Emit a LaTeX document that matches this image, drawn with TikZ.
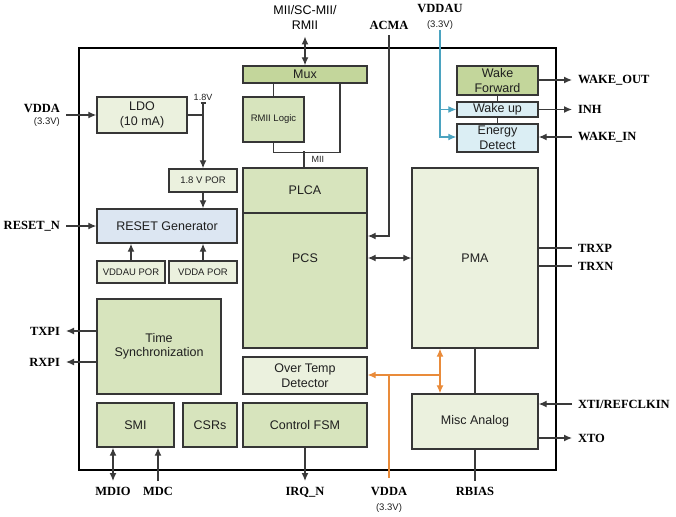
\documentclass[tikz,border=0pt]{standalone}
\usepackage{fontspec}
\setmainfont{Liberation Serif}
\setsansfont{Liberation Sans}
\usetikzlibrary{arrows.meta}

\definecolor{edge}{HTML}{363636}
\definecolor{grnD}{HTML}{C3D69B}
\definecolor{grnM}{HTML}{D7E4BD}
\definecolor{grnL}{HTML}{EBF1DE}
\definecolor{bluR}{HTML}{DCE6F2}
\definecolor{bluW}{HTML}{DBEEF4}
\definecolor{tealc}{HTML}{4BA3C0}
\definecolor{orng}{HTML}{E98B3A}
\definecolor{wirec}{HTML}{3A3A3A}
\definecolor{txt}{HTML}{1F1F1F}

\newcommand\blkfont{\sffamily\fontsize{12.5}{14.5}\selectfont}
\newcommand\smlfont{\sffamily\fontsize{9.5}{11}\selectfont}
\newcommand\sigfont{\rmfamily\bfseries\fontsize{12.5}{14}\selectfont}

\begin{document}
\begin{tikzpicture}[x=1pt,y=-1pt,>={Latex[length=8pt,width=7pt]},
    blk/.style 2 args={draw=edge, line width=1.4pt, inner sep=0pt,
        minimum width=#1pt, minimum height=#2pt, align=center,
        font=\blkfont, text=txt},
    sig/.style={font=\sigfont, inner sep=0pt, outer sep=6pt},
    note/.style={font=\smlfont, inner sep=0pt, text=txt},
    wire/.style={draw=wirec, line width=1.3pt}]
    \useasboundingbox (0,0) rectangle (676,516);

    % the chip outline
    \draw[line width=2.5pt] (79,48) rectangle (556,470);

    % supply and reset blocks
    \node[blk={90}{36}, fill=grnL] (ldo) at (142,115) {LDO\\(10 mA)};
    \node[blk={68}{23}, fill=grnL, font=\smlfont] (por18) at (203,180.5) {1.8 V POR};
    \node[blk={140}{34}, fill=bluR] (rg) at (167,226) {RESET Generator};
    \node[blk={68}{22}, fill=grnL, font=\smlfont] (pau) at (131,272) {VDDAU POR};
    \node[blk={68}{22}, fill=grnL, font=\smlfont] (pa) at (203,272) {VDDA POR};

    % left column
    \node[blk={124}{95}, fill=grnM] (ts) at (159,346.5) {Time\\Synchronization};
    \node[blk={77}{44}, fill=grnM] (smi) at (135.5,425) {SMI};
    \node[blk={54}{44}, fill=grnM] (csr) at (210,425) {CSRs};

    % digital column
    \node[blk={124}{17}, fill=grnD] (mux) at (305,74.5) {Mux};
    \node[blk={61}{45}, fill=grnM, font=\smlfont] (rmii) at (273.5,119.5) {RMII Logic};
    \node[blk={124}{45}, fill=grnM] (plca) at (305,190.5) {PLCA};
    \node[blk={124}{135}, fill=grnM,
        label={[font=\blkfont, text=txt, yshift=22.5pt]center:PCS}] (pcs) at (305,280.5) {};
    \node[blk={124}{37}, fill=grnL] (otd) at (305,375.5) {Over Temp\\Detector};
    \node[blk={124}{44}, fill=grnM] (fsm) at (305,425) {Control FSM};

    % analog column
    \node[blk={81}{29}, fill=grnD] (wf) at (497.5,80.5) {Wake\\Forward};
    \node[blk={81}{15}, fill=bluW] (wu) at (497.5,109.5) {Wake up};
    \node[blk={81}{28}, fill=bluW] (ed) at (497.5,138) {Energy\\Detect};
    \node[blk={126}{180}, fill=grnL] (pma) at (475,258) {PMA};
    \node[blk={126}{55}, fill=grnL] (ma) at (475,421.5) {Misc Analog};

    % pin names
    \node[font=\blkfont, align=center, inner sep=0pt] (miitxt) at (305,17.5) {MII/SC-MII/\\RMII};
    \node[sig] (acma) at (389,25) {ACMA};
    \node[sig] (vddau) at (440,8) {VDDAU};
    \node[note] (vauv) at (440,25) {(3.3V)};
    \node[sig, anchor=east] (vdda) at (66,108) {VDDA};
    \node[note, anchor=east] (vddav) at (60,122) {(3.3V)};
    \node[sig, anchor=east] (rstn) at (66,226) {RESET\_N};
    \node[sig, anchor=east] (txpi) at (66,331) {TXPI};
    \node[sig, anchor=east] (rxpi) at (66,362) {RXPI};
    \node[sig, anchor=north] (mdio) at (113,481) {MDIO};
    \node[sig, anchor=north] (mdc) at (158,481) {MDC};
    \node[sig, anchor=north] (irq) at (305,481) {IRQ\_N};
    \node[sig, anchor=north] (vdda2) at (389,481) {VDDA};
    \node[note] (vdda2v) at (389,508) {(3.3V)};
    \node[sig, anchor=north] (rbias) at (475,481) {RBIAS};
    \node[sig, anchor=west] (wout) at (572,80) {WAKE\_OUT};
    \node[sig, anchor=west] (inh) at (572,109) {INH};
    \node[sig, anchor=west] (win) at (572,137) {WAKE\_IN};
    \node[sig, anchor=west] (trxp) at (572,248) {TRXP};
    \node[sig, anchor=west] (trxn) at (572,266) {TRXN};
    \node[sig, anchor=west] (xti) at (572,404) {XTI/REFCLKIN};
    \node[sig, anchor=west] (xto) at (572,438) {XTO};

    % 1.8V rail
    \coordinate (v18) at (203,103);
    \draw[wire] (ldo.east) -- (ldo.east -| v18);
    \draw[wire,->] (v18) -- (por18.north);
    \draw[wire] ([xshift=-2.5pt]v18) -- ([xshift=2.5pt]v18)
        node[note, above=2pt, xshift=-2.5pt, font=\fontsize{9}{10}\sffamily] {1.8V};
    \draw[wire,->] (por18.south) -- (por18.south |- rg.north);
    \draw[wire,->] (pau.north) -- (pau.north |- rg.south);
    \draw[wire,->] (pa.north) -- (pa.north |- rg.south);
    \draw[wire,->] (vdda.east |- ldo.west) -- (ldo.west);
    \draw[wire,->] (rstn.east) -- (rstn.east -| rg.west);

    % time sync and management pins
    \draw[wire,->] (ts.west |- txpi) -- (txpi.east);
    \draw[wire,->] (ts.west |- rxpi) -- (rxpi.east);
    \draw[wire,<->] (smi.south -| mdio) -- (mdio.north);
    \draw[wire,->] (mdc.north) -- (mdc.north |- smi.south);
    \draw[wire,->] (fsm.south) -- (irq.north);

    % media interface
    \draw[wire,<->] ([yshift=-7pt]miitxt.south) -- (mux.north);
    \draw[wire] (rmii.north) -- (rmii.north |- mux.south);
    \draw[wire] (rmii.south) -- ++(0,10) -| ([xshift=35pt]mux.south);
    \draw[wire] ([xshift=-1pt]plca.north) -- ++(0,-16)
        node[note, midway, right=7pt, font=\fontsize{9}{10}\sffamily] {MII};
    \draw[wire,->] (acma.south) |- (pcs.east |- 0,236);
    \draw[wire,<->] (pcs.east |- pma.west) -- (pma.west);

    % wake logic
    \draw[wire] (wf.south) -- (wu.north);
    \draw[wire] (wu.south) -- (ed.north);
    \draw[wire,->] (wf.east |- wout) -- (wout.west);
    \draw[wire,->] (wu.east) -- (wu.east -| inh.west);
    \draw[wire,->] (win.west) -- (win.west -| ed.east);
    \draw[tealc, line width=1.2pt, ->] (vauv.south) |- (ed.west |- win);
    \draw[tealc, line width=1.2pt, ->] (vauv.south |- wu.west) -- (wu.west);

    % PMA and analog pins
    \draw[wire] (pma.east |- trxp) -- (trxp.west);
    \draw[wire] (pma.east |- trxn) -- (trxn.west);
    \draw[wire] (pma.south) -- (ma.north);
    \draw[wire] (ma.south) -- (rbias.north);
    \draw[wire,->] (xti.west) -- (xti.west -| ma.east);
    \draw[wire,->] (ma.east |- xto) -- (xto.west);

    % VDDA supply to analog
    \coordinate (tap) at (440,375);
    \draw[orng, line width=1.2pt] ([yshift=3pt]vdda2.north) -- (vdda2.north |- tap);
    \draw[orng, line width=1.2pt, ->] (tap) -- (tap -| otd.east);
    \draw[orng, line width=1.2pt, <->] (tap |- pma.south) -- (tap |- ma.north);
\end{tikzpicture}
\end{document}
